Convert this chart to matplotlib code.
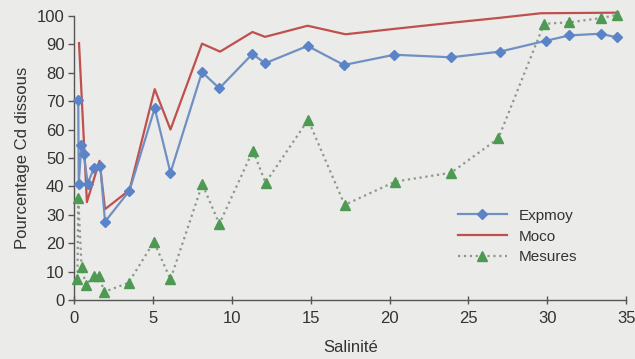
import matplotlib
matplotlib.use('Agg')
import matplotlib.pyplot as plt

# Expmoy (losanges bleus)
exp_x = [0.25, 0.28, 0.45, 0.6, 0.85, 1.25, 1.65, 1.95, 3.5, 5.1, 6.1, 8.1, 9.2,
         11.3, 12.1, 14.8, 17.1, 20.3, 23.9, 27.0, 29.9, 31.4, 33.4, 34.4]
exp_y = [70.4, 41, 54.5, 51.5, 41, 46.5, 47, 27.6, 38.5, 67.5, 44.8, 80.2, 74.5,
         86.6, 83.3, 89.4, 82.7, 86.3, 85.4, 87.4, 91.2, 93.1, 93.7, 92.4]

# Moco (ligne rouge)
moco_x = [0.3, 0.8, 1.6, 1.95, 3.5, 5.1, 6.1, 8.1, 9.25, 11.3, 12.1, 14.8,
          17.2, 20.3, 24.0, 27.0, 29.6, 34.5]
moco_y = [90.4, 34.5, 49, 32, 38.7, 74.2, 60, 90.2, 87.4, 94.3, 92.6, 96.5,
          93.5, 95.4, 97.6, 99.3, 100.9, 101.1]

# Mesures (triangles verts)
mes_x = [0.2, 0.25, 0.46, 0.74, 1.22, 1.58, 1.9, 3.44, 5.05, 6.1, 8.12, 9.2,
         11.33, 12.13, 14.83, 17.15, 20.36, 23.9, 26.9, 29.8, 31.4, 33.4, 34.4]
mes_y = [7.6, 35.8, 11.7, 5.3, 8.5, 8.5, 2.9, 6.1, 20.5, 7.3, 40.8, 26.8,
         52.6, 41.3, 63.4, 33.5, 41.7, 44.8, 56.9, 97.2, 97.7, 99.2, 100.3]

x_ticks = [0, 5, 10, 15, 20, 25, 30, 35]
y_ticks = [0, 10, 20, 30, 40, 50, 60, 70, 80, 90, 100]

plt.rcParams['font.family'] = ['Liberation Sans', 'DejaVu Sans']

bg = '#ebebea'
fig = plt.figure(figsize=(6.35, 3.59), dpi=100, facecolor=bg)
ax = fig.add_axes([0.117, 0.164, 0.869, 0.792], facecolor=bg)

ax.plot(exp_x, exp_y, color='#7090c4', linewidth=1.6, marker='D', markersize=5.5,
        markerfacecolor='#5b84c8', markeredgecolor='#5b84c8', label='Expmoy',
        clip_on=False, zorder=3)
ax.plot(moco_x, moco_y, color='#c0504d', linewidth=1.6, label='Moco',
        clip_on=False, zorder=2)
ax.plot(mes_x, mes_y, color='#8a9a8a', linewidth=1.6, linestyle=':',
        marker='^', markersize=7, markerfacecolor='#4e9a52',
        markeredgecolor='#4e9a52', label='Mesures', clip_on=False, zorder=4)

ax.set_xlim(0, 35)
ax.set_ylim(0, 100)
ax.set_xticks(x_ticks)
ax.set_yticks(y_ticks)

for s in ['top', 'right']:
    ax.spines[s].set_visible(False)
for s in ['left', 'bottom']:
    ax.spines[s].set_color('#555555')
    ax.spines[s].set_linewidth(1.0)

ax.tick_params(axis='x', direction='inout', length=6, width=1, colors='#555555',
               labelcolor='#333333', labelsize=12, pad=5)
ax.tick_params(axis='y', direction='out', length=4, width=1, colors='#555555',
               labelcolor='#333333', labelsize=12, pad=3)

ax.set_xlabel('Salinité', fontsize=12, color='#333333', labelpad=10)
ax.set_ylabel('Pourcentage Cd dissous', fontsize=12, color='#333333', labelpad=5)

ax.legend(loc='upper left', bbox_to_anchor=(0.67, 0.37), frameon=False,
          fontsize=11, handlelength=3.2, labelspacing=0.45, handletextpad=0.8,
          labelcolor='#333333')

plt.savefig('out.png', dpi=100, facecolor=bg)
